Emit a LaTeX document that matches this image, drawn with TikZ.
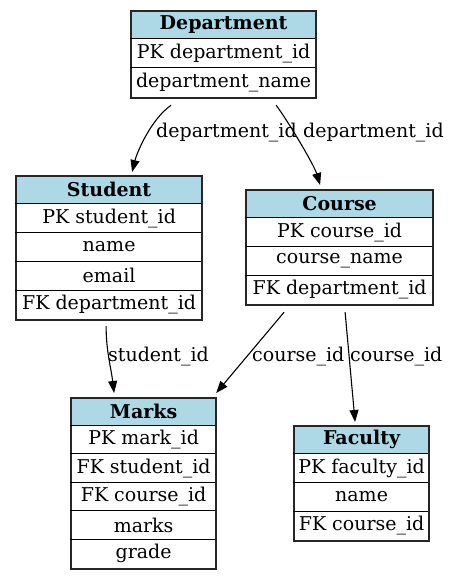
\documentclass[tikz,border=0pt]{standalone}
\usepackage{fontspec}
\setmainfont{DejaVu Serif}
\usetikzlibrary{calc,arrows.meta}
\definecolor{hdrblue}{HTML}{ADD8E6}
\tikzset{
  tbl/.style={draw=black!85, line width=2.2pt, inner sep=0pt},
  hdr/.style={fill=hdrblue},
  cellline/.style={draw=black, line width=1pt},
  celltext/.style={inner sep=0pt, font=\fontsize{19}{22}\selectfont},
  lbl/.style={inner sep=0pt, anchor=west, font=\fontsize{19}{22}\selectfont},
  rel/.style={draw=black, line width=1.1pt, -{Triangle[length=12pt,width=9pt]}}
}
\newcommand\erdtab[8]{%
  \pgfmathsetmacro\rh{#5/#6}%
  \fill[hdr] (#2,#3) rectangle ++(#4,-\rh);
  \node[tbl, minimum width=#4pt, minimum height=#5pt, anchor=north west] (#1) at (#2,#3) {};
  \node[celltext, font=\fontsize{19}{22}\selectfont\bfseries] (#1-h) at ($(#1.north)+(0,-0.5*\rh)$) {#7};
  \foreach \r [count=\i] in {#8} {
    \draw[cellline] ($(#1.north west)+(0,-\i*\rh)$) -- ++(#4,0);
    \node[celltext] (#1-\i) at ($(#1.north)+(0,-\i*\rh-0.5*\rh)$) {\r};
  }
}
\begin{document}
\begin{tikzpicture}[x=1pt,y=1pt]
\useasboundingbox[fill=white] (0,0) rectangle (448,579);
\erdtab{dept}{130}{569}{185}{87}{3}{Department}{PK department\_id,department\_name}
\erdtab{student}{15}{404}{186}{144}{5}{Student}{PK student\_id,name,email,FK department\_id}
\erdtab{course}{245}{390}{187}{115}{4}{Course}{PK course\_id,course\_name,FK department\_id}
\erdtab{marks}{70}{182}{145}{171}{6}{Marks}{PK mark\_id,FK student\_id,FK course\_id,marks,grade}
\erdtab{faculty}{293}{154}{135}{115}{4}{Faculty}{PK faculty\_id,name,FK course\_id}

\draw[rel] ([xshift=-52.5pt,yshift=-6pt]dept.south) .. controls +(-20,-14) and +(5,20) .. ([xshift=23pt,yshift=3pt]student.north);
\draw[rel] ([xshift=52.5pt,yshift=-6pt]dept.south) .. controls +(12,-16) and +(-6,20) .. ([xshift=-19.5pt,yshift=4pt]course.north);
\draw[rel] ([xshift=-3pt,yshift=-5pt]student.south) .. controls +(0,-25) and +(-3,25) .. ([xshift=-29.5pt,yshift=4pt]marks.north);
\draw[rel] ([xshift=-55.5pt,yshift=-6pt]course.south) -- ([xshift=-1pt,yshift=4pt]marks.north east);
\draw[rel] ([xshift=5.5pt,yshift=-6pt]course.south) -- ([xshift=-6.5pt,yshift=3pt]faculty.north);

\node[lbl] (l1) at (156,446) {department\_id};
\node[lbl] (l2) at (303,446) {department\_id};
\node[lbl] (l3) at (108,222) {student\_id};
\node[lbl] (l4) at (252,222) {course\_id};
\node[lbl] (l5) at (350,222) {course\_id};
\end{tikzpicture}
\end{document}
